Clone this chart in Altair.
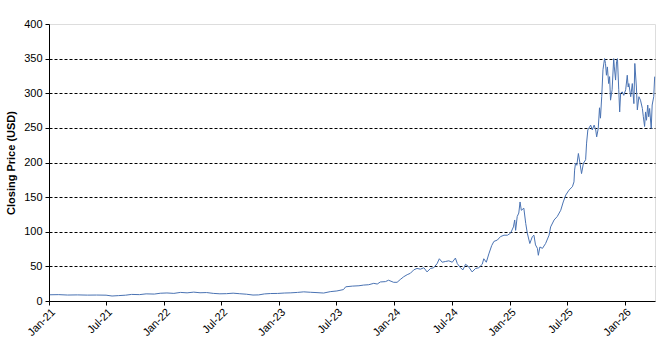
import altair as alt
import pandas as pd

dates = [
    "2021-01-04", "2021-02-01", "2021-03-01", "2021-04-01", "2021-05-03", "2021-06-01",
    "2021-07-01", "2021-07-20", "2021-08-10", "2021-09-01", "2021-09-20", "2021-10-15",
    "2021-11-05", "2021-12-01", "2021-12-20", "2022-01-10", "2022-02-01", "2022-02-22",
    "2022-03-15", "2022-04-05", "2022-04-25", "2022-05-16", "2022-06-06", "2022-06-27",
    "2022-07-18", "2022-08-08", "2022-08-29", "2022-09-19", "2022-10-10", "2022-10-28",
    "2022-11-15", "2022-12-05", "2022-12-27", "2023-01-17", "2023-02-07", "2023-02-28",
    "2023-03-20", "2023-04-10", "2023-05-01", "2023-05-22", "2023-06-12", "2023-07-03",
    "2023-07-24", "2023-07-31", "2023-08-21", "2023-09-11", "2023-09-26", "2023-10-12",
    "2023-10-28", "2023-11-08", "2023-11-18", "2023-12-04", "2023-12-14", "2023-12-30",
    "2024-01-10", "2024-01-20", "2024-01-31", "2024-02-11", "2024-02-21", "2024-03-03",
    "2024-03-13", "2024-03-24", "2024-04-04", "2024-04-14", "2024-04-25", "2024-05-05",
    "2024-05-16", "2024-05-23", "2024-06-01", "2024-06-11", "2024-06-22", "2024-07-03",
    "2024-07-13", "2024-07-19", "2024-07-29", "2024-08-06", "2024-08-14", "2024-08-23",
    "2024-09-04", "2024-09-15", "2024-09-25", "2024-10-06", "2024-10-11", "2024-10-19",
    "2024-10-27", "2024-11-05", "2024-11-12", "2024-11-23", "2024-12-03", "2024-12-14",
    "2024-12-25", "2025-01-04", "2025-01-13", "2025-01-17", "2025-01-20", "2025-01-25",
    "2025-01-30", "2025-02-03", "2025-02-07", "2025-02-15", "2025-02-21", "2025-02-26",
    "2025-03-06", "2025-03-14", "2025-03-19", "2025-03-24", "2025-03-30", "2025-04-02",
    "2025-04-07", "2025-04-15", "2025-04-25", "2025-05-06", "2025-05-11", "2025-05-22",
    "2025-06-01", "2025-06-12", "2025-06-20", "2025-06-28", "2025-07-08", "2025-07-19",
    "2025-07-24", "2025-07-26", "2025-07-29", "2025-08-02", "2025-08-07", "2025-08-12",
    "2025-08-17", "2025-08-23", "2025-08-30", "2025-09-02", "2025-09-06", "2025-09-15",
    "2025-09-20", "2025-09-26", "2025-10-01", "2025-10-04", "2025-10-09", "2025-10-13",
    "2025-10-16", "2025-10-20", "2025-10-24", "2025-10-29", "2025-11-01", "2025-11-04",
    "2025-11-07", "2025-11-11", "2025-11-14", "2025-11-17", "2025-11-22", "2025-11-27",
    "2025-11-29", "2025-12-03", "2025-12-06", "2025-12-09", "2025-12-13", "2025-12-16",
    "2025-12-19", "2025-12-24", "2025-12-29", "2026-01-04", "2026-01-09", "2026-01-12",
    "2026-01-14", "2026-01-20", "2026-01-25", "2026-01-30", "2026-02-02", "2026-02-07",
    "2026-02-10", "2026-02-15", "2026-02-20", "2026-02-26", "2026-03-01", "2026-03-05",
    "2026-03-08", "2026-03-11", "2026-03-15", "2026-03-18", "2026-03-21", "2026-03-26",
    "2026-03-29", "2026-04-03", "2026-04-06",
]

closing = [
    9.0, 9.2, 8.6, 8.8, 8.5, 8.6,
    8.4, 7.2, 7.8, 8.4, 9.5, 9.2,
    10.3, 10.0, 11.2, 11.6, 11.0, 12.4,
    11.8, 12.8, 11.9, 12.2, 11.0, 10.4,
    10.6, 11.3, 10.5, 9.8, 8.6, 8.8,
    10.2, 10.8, 10.9, 11.5, 11.8, 12.4,
    13.2, 12.6, 12.1, 11.5, 13.5, 14.5,
    16.5, 20.5, 21.5, 22.0, 23.0, 23.5,
    25.5, 24.5, 27.5, 28.0, 30.0, 27.0,
    27.0, 31.0, 35.0, 38.0, 40.0, 45.0,
    47.0, 46.0, 48.0, 42.0, 47.0, 48.0,
    54.0, 61.0, 56.0, 57.0, 58.0, 56.0,
    62.0, 54.0, 48.0, 45.0, 53.0, 50.0,
    42.0, 47.0, 48.0, 53.0, 61.0, 56.0,
    68.0, 80.0, 86.0, 88.0, 93.0, 95.0,
    95.0, 98.0, 107.0, 117.0, 102.0, 122.0,
    127.0, 143.0, 131.0, 134.0, 112.0, 98.0,
    83.0, 93.0, 95.0, 81.0, 76.0, 66.0,
    78.0, 76.0, 83.0, 95.0, 107.0, 117.0,
    122.0, 131.0, 143.0, 153.0, 160.0, 165.0,
    172.0, 189.0, 199.0, 196.0, 213.0, 199.0,
    184.0, 199.0, 204.0, 228.0, 247.0, 254.0,
    247.0, 254.0, 247.0, 237.0, 249.0, 279.0,
    264.0, 295.0, 334.0, 350.0, 343.0, 326.0,
    338.0, 314.0, 324.0, 290.0, 305.0, 350.0,
    338.0, 319.0, 346.0, 350.0, 305.0, 273.0,
    300.0, 302.0, 297.0, 305.0, 326.0, 309.0,
    314.0, 295.0, 314.0, 285.0, 343.0, 309.0,
    276.0, 295.0, 290.0, 278.0, 266.0, 252.0,
    273.0, 261.0, 283.0, 266.0, 278.0, 249.0,
    283.0, 295.0, 324.0,
]

y_ticks = [0, 50, 100, 150, 200, 250, 300, 350, 400]
x_tick_years = [2021, 2022, 2023, 2024, 2025, 2026]

df = pd.DataFrame({"date": dates, "close": closing})

x_tick_values = []
for yr in x_tick_years:
    x_tick_values.append(alt.DateTime(year=yr, month=1, date=1, utc=True))
    if yr < 2026:
        x_tick_values.append(alt.DateTime(year=yr, month=7, date=1, utc=True))

FONT = "Liberation Sans"

chart = alt.Chart(df).mark_line(color="#4a73b3", strokeWidth=1).encode(
    x=alt.X(
        "date:T",
        scale=alt.Scale(
            type="utc",
            domain=[
                alt.DateTime(year=2021, month=1, date=1, utc=True),
                alt.DateTime(year=2026, month=4, date=7, utc=True),
            ],
            nice=False,
        ),
        axis=alt.Axis(
            values=x_tick_values,
            format="%b-%y",
            labelAngle=315,
            labelAlign="right",
            labelBaseline="top",
            labelPadding=1,
            labelFontSize=11,
            labelFont=FONT,
            labelColor="black",
            tickSize=4,
            tickColor="black",
            domainColor="black",
            grid=False,
            title=None,
            labelOverlap=False,
            labelFlush=False,
        ),
    ),
    y=alt.Y(
        "close:Q",
        scale=alt.Scale(domain=[0, 400], nice=False, zero=True),
        axis=alt.Axis(
            values=y_ticks,
            title="Closing Price (USD)",
            titleFont=FONT,
            titleFontSize=11,
            titleFontWeight="bold",
            titleColor="black",
            titlePadding=7,
            labelFont=FONT,
            labelFontSize=11,
            labelColor="black",
            labelPadding=3,
            tickSize=4,
            tickColor="black",
            domainColor="black",
            grid=True,
            gridColor="black",
            gridDash=[3, 2],
            gridWidth=1,
            gridOpacity={"condition": {"test": "datum.value === 400 || datum.value === 0", "value": 0}, "value": 1},
        ),
    ),
).properties(
    width=606,
    height=277,
    autosize=alt.AutoSizeParams(type="none"),
    padding={"left": 49, "top": 24, "right": 16, "bottom": 45},
).configure_view(
    stroke="#808080",
    strokeWidth=1,
).configure(
    background="white",
)

chart.save("out.html", embed_options={"renderer": "svg", "actions": False})
